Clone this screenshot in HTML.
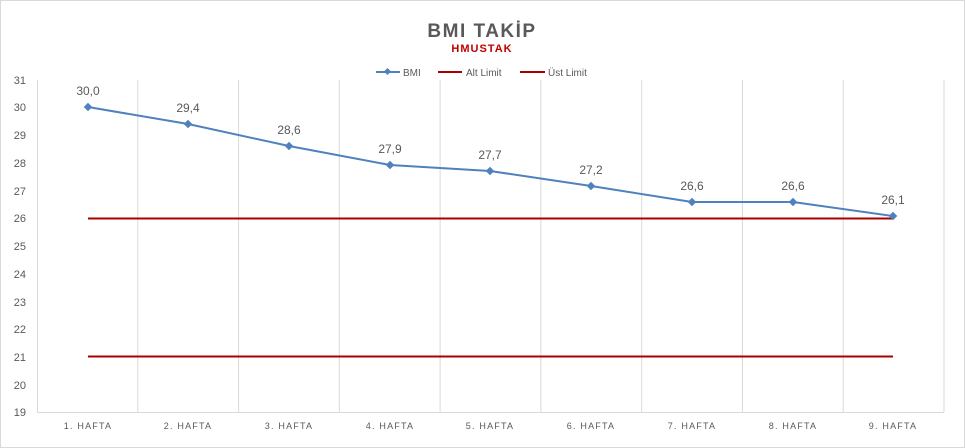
<!DOCTYPE html>
<html><head><meta charset="utf-8"><style>body{margin:0;background:#fff}svg{display:block}</style></head><body>
<svg width="965" height="448" xmlns="http://www.w3.org/2000/svg" font-family="Liberation Sans, sans-serif">
<rect x="0.5" y="0.5" width="964" height="447" fill="#fff" stroke="#d9d9d9"/>
<text x="482" y="37" text-anchor="middle" font-size="19" font-weight="bold" fill="#595959" letter-spacing="1.5">BMI TAKİP</text>
<text x="482" y="52" text-anchor="middle" font-size="11" font-weight="bold" fill="#c00000" letter-spacing="1">HMUSTAK</text>
<g font-size="10" fill="#595959">
<line x1="376" y1="72" x2="400" y2="72" stroke="#4f81bd" stroke-width="2"/><rect x="385" y="69" width="5" height="5" fill="#4f81bd" transform="rotate(45 387.5 71.5)"/>
<text x="403" y="76">BMI</text>
<line x1="438" y1="72" x2="462" y2="72" stroke="#a80000" stroke-width="2"/><text x="466" y="76">Alt Limit</text>
<line x1="520" y1="72" x2="545" y2="72" stroke="#a80000" stroke-width="2"/><text x="548" y="76">Üst Limit</text>
</g>
<g stroke="#d9d9d9" stroke-width="1">
<line x1="37.5" y1="80" x2="37.5" y2="412"/>
<line x1="137.8" y1="80" x2="137.8" y2="412"/><line x1="238.6" y1="80" x2="238.6" y2="412"/><line x1="339.3" y1="80" x2="339.3" y2="412"/><line x1="440.1" y1="80" x2="440.1" y2="412"/><line x1="540.9" y1="80" x2="540.9" y2="412"/><line x1="641.7" y1="80" x2="641.7" y2="412"/><line x1="742.4" y1="80" x2="742.4" y2="412"/><line x1="843.2" y1="80" x2="843.2" y2="412"/><line x1="944" y1="80" x2="944" y2="412"/>
<line x1="37" y1="412.5" x2="944" y2="412.5"/>
</g>
<g font-size="11" fill="#595959" text-anchor="end">
<text x="26" y="84">31</text><text x="26" y="111">30</text><text x="26" y="139">29</text><text x="26" y="167">28</text><text x="26" y="195">27</text><text x="26" y="222">26</text><text x="26" y="250">25</text><text x="26" y="278">24</text><text x="26" y="306">23</text><text x="26" y="333">22</text><text x="26" y="361">21</text><text x="26" y="389">20</text><text x="26" y="416">19</text>
</g>
<g font-size="9" fill="#595959" text-anchor="middle" letter-spacing="1.2">
<text x="88" y="429">1. HAFTA</text><text x="188" y="429">2. HAFTA</text><text x="289" y="429">3. HAFTA</text><text x="390" y="429">4. HAFTA</text><text x="490" y="429">5. HAFTA</text><text x="591" y="429">6. HAFTA</text><text x="692" y="429">7. HAFTA</text><text x="793" y="429">8. HAFTA</text><text x="893" y="429">9. HAFTA</text>
</g>
<line x1="88" y1="218.5" x2="893" y2="218.5" stroke="#a80000" stroke-width="2"/>
<line x1="88" y1="356.5" x2="893" y2="356.5" stroke="#a80000" stroke-width="2"/>
<polyline fill="none" stroke="#4f81bd" stroke-width="2" points="88,107 188,124 289,146 390,165 490,171 591,186 692,202 793,202 893,216"/>
<g fill="#4f81bd">
<rect x="85" y="104" width="6" height="6" transform="rotate(45 88 107)"/><rect x="185" y="121" width="6" height="6" transform="rotate(45 188 124)"/><rect x="286" y="143" width="6" height="6" transform="rotate(45 289 146)"/><rect x="387" y="162" width="6" height="6" transform="rotate(45 390 165)"/><rect x="487" y="168" width="6" height="6" transform="rotate(45 490 171)"/><rect x="588" y="183" width="6" height="6" transform="rotate(45 591 186)"/><rect x="689" y="199" width="6" height="6" transform="rotate(45 692 202)"/><rect x="790" y="199" width="6" height="6" transform="rotate(45 793 202)"/><rect x="890" y="213" width="6" height="6" transform="rotate(45 893 216)"/>
</g>
<g font-size="12" fill="#595959" text-anchor="middle">
<text x="88" y="95">30,0</text><text x="188" y="112">29,4</text><text x="289" y="134">28,6</text><text x="390" y="153">27,9</text><text x="490" y="159">27,7</text><text x="591" y="174">27,2</text><text x="692" y="190">26,6</text><text x="793" y="190">26,6</text><text x="893" y="204">26,1</text>
</g>
</svg>
</body></html>
